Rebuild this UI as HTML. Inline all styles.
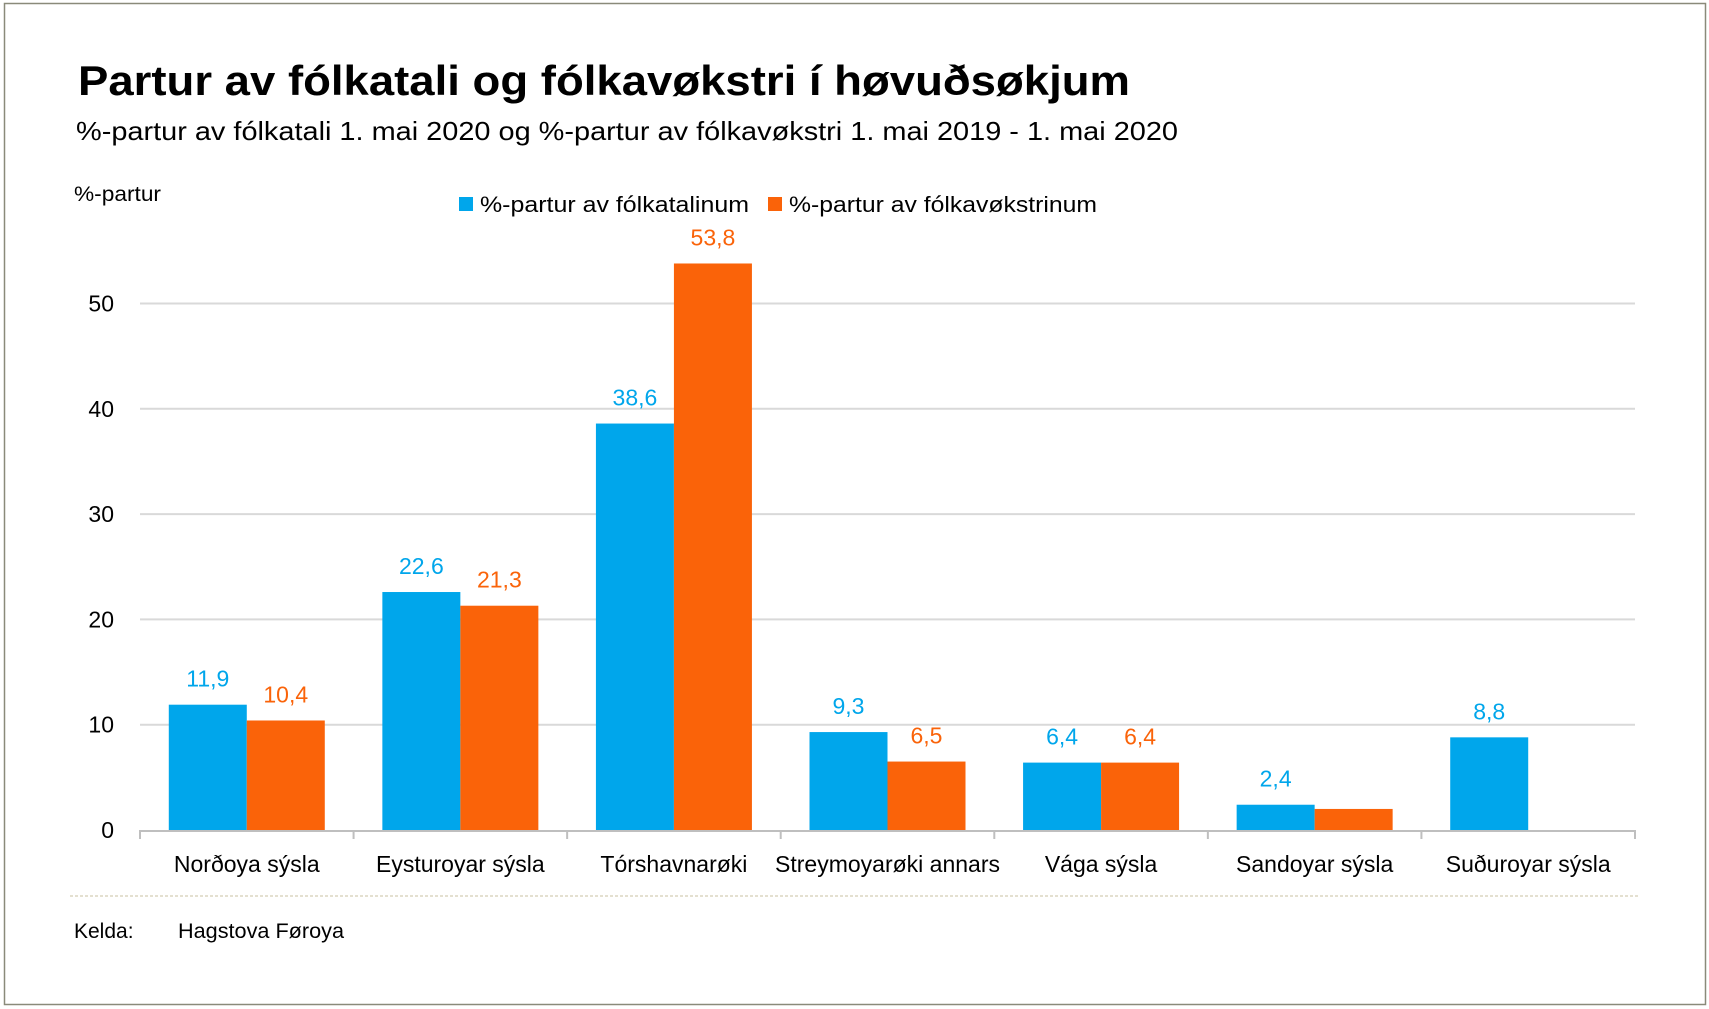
<!DOCTYPE html>
<html><head><meta charset="utf-8"><style>
body{margin:0;background:#fff;}
svg{display:block;font-family:"Liberation Sans",sans-serif;}
</style></head><body>
<svg id="chart" width="1709" height="1009" viewBox="0 0 1709 1009">
<rect x="4.5" y="3.5" width="1701" height="1001" fill="#fff" stroke="#8a8a7a" stroke-width="1.5"/>
<text x="78" y="95" font-size="42" font-weight="bold" fill="#000" textLength="1052" lengthAdjust="spacingAndGlyphs">Partur av fólkatali og fólkavøkstri í høvuðsøkjum</text>
<text x="76" y="140" font-size="26" fill="#000" textLength="1102" lengthAdjust="spacingAndGlyphs">%-partur av fólkatali 1. mai 2020 og %-partur av fólkavøkstri 1. mai 2019 - 1. mai 2020</text>
<text x="74" y="201" font-size="21" fill="#000" textLength="87" lengthAdjust="spacingAndGlyphs">%-partur</text>
<g>
<rect x="459" y="197" width="14" height="14" fill="#00a6eb"/>
<text x="480" y="212" font-size="22" textLength="269" lengthAdjust="spacingAndGlyphs">%-partur av fólkatalinum</text>
<rect x="768" y="197" width="14" height="14" fill="#fa6309"/>
<text x="789" y="212" font-size="22" textLength="308" lengthAdjust="spacingAndGlyphs">%-partur av fólkavøkstrinum</text>
</g>
<g id="plot"></g>
<line x1="70" y1="896" x2="1638" y2="896" stroke="#c8c0a0" stroke-width="1" stroke-dasharray="3,2"/>
<text x="74" y="938" font-size="21">Kelda:</text>
<text x="178" y="938" font-size="21" textLength="166" lengthAdjust="spacingAndGlyphs">Hagstova Føroya</text>
</svg>
<script>
const categories=["Norðoya sýsla","Eysturoyar sýsla","Tórshavnarøki","Streymoyarøki annars","Vága sýsla","Sandoyar sýsla","Suðuroyar sýsla"];
const populationShare=[11.9,22.6,38.6,9.3,6.4,2.4,8.8];
const growthShare=[10.4,21.3,53.8,6.5,6.4,2.0,null];
const growthLabels=["10,4","21,3","53,8","6,5","6,4","",""];
const yTicks=[0,10,20,30,40,50];
const NS="http://www.w3.org/2000/svg";
const x0=140,x1=1635,y0=830,pxPer=10.53;
const bandW=(x1-x0)/categories.length;
const y=v=>y0-v*pxPer;
const g=document.getElementById('plot');
function mk(t,a){const e=document.createElementNS(NS,t);for(const k in a)e.setAttribute(k,a[k]);g.appendChild(e);return e;}
const fmt=v=>v.toFixed(1).replace('.',',');
yTicks.forEach(t=>{
 if(t>0){const l=mk('line',{x1:x0,x2:x1,y1:y(t),y2:y(t),stroke:'#d9d9d9','stroke-width':2});
 
 }
 const tx=mk('text',{x:114,y:y(t)+8,'font-size':23,'text-anchor':'end'});tx.textContent=t;
 
 
});
const ax=mk('line',{x1:x0,x2:x1,y1:y0+1,y2:y0+1,stroke:'#bfbfbf','stroke-width':2});


for(let i=0;i<=categories.length;i++){
 const tk=mk('line',{x1:x0+i*bandW,x2:x0+i*bandW,y1:y0,y2:y0+9,stroke:'#bfbfbf','stroke-width':2});
 
 
}
const bw=78;
categories.forEach((c,i)=>{
 const cx=x0+i*bandW+bandW/2;
 const p=populationShare[i];
 const b1=mk('rect',{x:cx-bw,y:y(p),width:bw,height:y0-y(p),fill:'#00a6eb'});
 
 
 const l1=mk('text',{x:cx-bw/2,y:y(p)-18,'font-size':23,'text-anchor':'middle',fill:'#00a6eb'});l1.textContent=fmt(p);
 
 
 const gv=growthShare[i];
 if(gv!=null){
  const b2=mk('rect',{x:cx,y:y(gv),width:bw,height:y0-y(gv),fill:'#fa6309'});
  
  
  if(growthLabels[i]){const l2=mk('text',{x:cx+bw/2,y:y(gv)-18,'font-size':23,'text-anchor':'middle',fill:'#fa6309'});l2.textContent=growthLabels[i];
  
  }
 }
 const cl=mk('text',{x:cx,y:872,'font-size':23,'text-anchor':'middle'});cl.textContent=c;
 
 
});
</script>
</body></html>
